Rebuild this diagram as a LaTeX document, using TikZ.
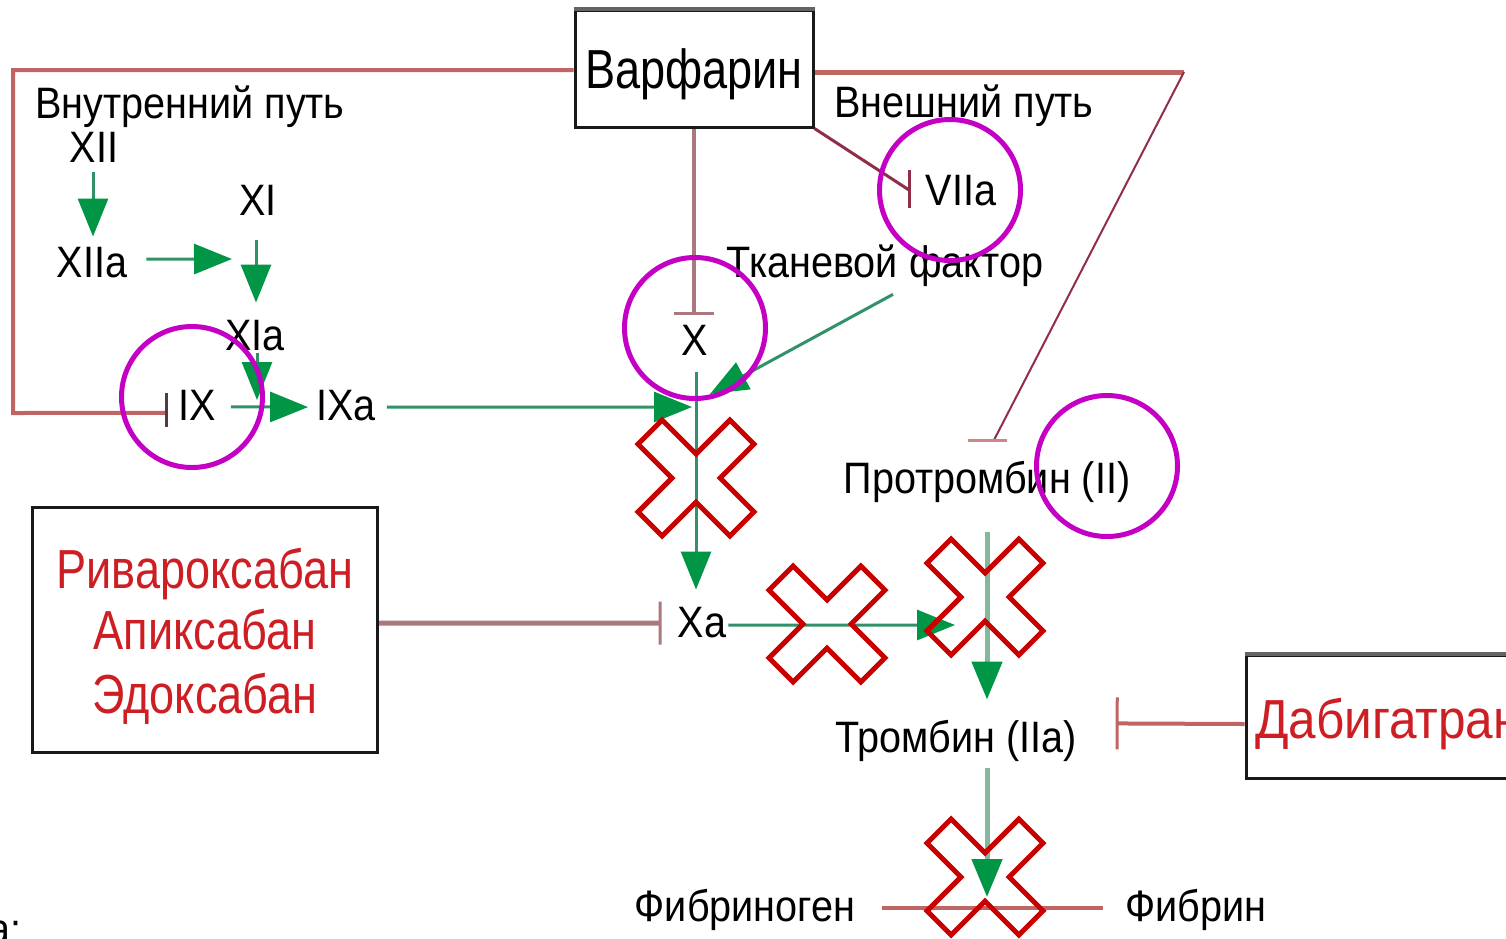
\documentclass[tikz,border=0pt]{standalone}
\usepackage{fontspec}
\setmainfont[FakeStretch=0.9]{Liberation Sans}
\newfontfamily\bigfont[FakeStretch=0.82]{Liberation Sans}
\newfontfamily\dabfont[FakeStretch=0.9]{Liberation Sans}
\usetikzlibrary{arrows.meta,calc}
\definecolor{ghead}{RGB}{0,150,70}
\definecolor{gline}{RGB}{50,145,105}
\definecolor{glight}{RGB}{130,185,155}
\definecolor{inh}{RGB}{192,100,100}
\definecolor{inhB}{RGB}{170,120,125}
\definecolor{inhD}{RGB}{145,45,70}
\definecolor{barD}{RGB}{80,60,65}
\definecolor{barP}{RGB}{205,135,135}
\definecolor{xred}{RGB}{200,0,0}
\definecolor{mag}{RGB}{196,0,196}
\definecolor{drug}{RGB}{205,30,35}
\definecolor{boxline}{RGB}{25,25,25}
\definecolor{boxtop}{RGB}{100,100,100}
\begin{document}
\begin{tikzpicture}[x=1pt,y=-1pt,
  lbl/.style={anchor=base,inner sep=0pt,font=\fontsize{44}{50}\selectfont},
  big/.style={anchor=base,inner sep=0pt,font=\bigfont\fontsize{55}{62}\selectfont},
  drugtxt/.style={big,text=drug},
  framebox/.style={draw=boxline,line width=3pt,inner sep=0pt},
  gar/.style={draw=gline,line width=3pt,-{Triangle[length=38pt,width=30pt,color=ghead]}},
  gthick/.style={gar,draw=glight,line width=5pt},
  inhl/.style={line width=4pt,draw=inh},
  tee/.style={-{Bar[width=#1,line width=3pt]}},
  tbar/.style={line width=3pt},
  crossl/.style={draw=xred,line width=5pt,line join=miter},
  ring/.style={draw=mag,line width=5pt,circle,inner sep=0pt,minimum size=141pt},
  xmark/.pic={\draw[crossl,rotate=45] (17,17) -- (65,17) -- (65,-17) -- (17,-17) -- (17,-65) -- (-17,-65) -- (-17,-17) -- (-65,-17) -- (-65,17) -- (-17,17) -- (-17,65) -- (17,65) -- cycle;}
]
\clip (0,0) rectangle (1506,938);
\fill[white] (0,0) rectangle (1506,938);

% boxes
\node[framebox,minimum width=238pt,minimum height=117pt] (war) at (694,68.5) {};
\draw[line width=4pt,draw=boxtop] (war.north west) -- (war.north east);
\node[big] (wart) at (694,88) {Варфарин};
\node[framebox,minimum width=345pt,minimum height=245pt] (lbox) at (205,630) {};
\node[drugtxt] (riv) at (205,588) {Ривароксабан};
\node[drugtxt] (api) at (205,649) {Апиксабан};
\node[drugtxt] (edo) at (205,713) {Эдоксабан};
\node[framebox,minimum width=284pt,minimum height=123pt] (dab) at (1388,716.5) {};
\draw[line width=4pt,draw=boxtop] (dab.north west) -- (dab.north east);
\node[drugtxt,anchor=base west,font=\dabfont\fontsize{55}{62}\selectfont] (dabt) at (1255,738) {Дабигатран};

% labels
\node[lbl] (inner) at (190,118) {Внутренний путь};
\node[lbl] (XII) at (94,162) {XII};
\node[lbl] (XIIa) at (92,277) {XIIa};
\node[lbl] (XI) at (258,215) {XI};
\node[lbl] (XIa) at (255,350) {XIa};
\node[lbl] (IX) at (197,420) {IX};
\node[lbl] (IXa) at (346,420) {IXa};
\node[lbl] (X) at (695,355) {X};
\node[lbl] (Xa) at (702,637) {Xa};
\node[lbl] (outer) at (964,117) {Внешний путь};
\node[lbl] (VIIa) at (961,205) {VIIa};
\node[lbl] (TF) at (885,277) {Тканевой фактор};
\node[lbl] (proth) at (987,493) {Протромбин (II)};
\node[lbl] (thromb) at (956,752) {Тромбин (IIa)};
\node[lbl] (fgen) at (745,921) {Фибриноген};
\node[lbl] (fib) at (1196,921) {Фибрин};
\node[lbl,anchor=base east] (cut) at (22,944) {а:};

% free ends
\coordinate (xiiaEnd) at (232,259);
\coordinate (xiaEnd) at (257,400);
\coordinate (jXw) at (692,407);
\coordinate (jXe) at (710,394);
\coordinate (pEnd) at (955,625);
\coordinate (fEnd) at (987,897);
\coordinate (v7) at (909,190);
\coordinate (pTop) at (1184,72);
\coordinate (pBar) at (994,440);

% inhibition lines
\draw[inhl] ($(war.west)+(0,1.5)$) -| (13,413) -- ($(IX.west)+(-12,8)$);
\draw[tbar,draw=barD] ($(IX.west)+(-12,-12)$) -- ($(IX.west)+(-12,22)$);
\draw[inhl,draw=inhB,tee=40pt] (war.south) -- ($(X.north)+(-1,-10)$);
\draw[line width=3pt,draw=inhD] (war.south east) -- (v7);
\draw[tbar,draw=inhD] ($(v7)+(0,-20)$) -- ($(v7)+(0,18)$);
\draw[line width=5pt,draw=inh] ($(war.east)+(0,3.5)$) -- (pTop);
\draw[line width=2pt,draw=inhD] (pTop) -- (pBar);
\draw[tbar,draw=barP] ($(pBar)+(-26,0)$) -- ($(pBar)+(13,0)$);
\draw[inhl,draw=inhB,line width=5pt,tee=43pt] ($(lbox.east)+(0,-7)$) -- ($(Xa.west)+(-16,1)$);
\draw[inhl,tee=52pt] ($(dab.west)+(0,7.5)$) -- ($(thromb.east)+(39,-17)$);
\draw[line width=4pt,draw=inh] ($(fgen.base east)+(27,-13)$) -- ($(fib.base west)+(-22,-13)$);

% activation arrows
\draw[gar] ($(XII.south)+(-1,10)$) -- ($(XIIa.north)+(1,-10)$);
\draw[gar] ($(XIIa.east)+(19,-3)$) -- (xiiaEnd);
\draw[gar] ($(XI.south)+(-2,25)$) -- ($(XIa.north)+(1,-17)$);
\draw[gar] ($(XIa.south)+(2,2)$) -- (xiaEnd);
\draw[gar] ($(IX.east)+(15,2)$) -- ($(IXa.west)+(-8,2)$);
\draw[gar] ($(IXa.east)+(11,2)$) -- (jXw);
\draw[gar] ($(TF.south)+(8,8)$) -- (jXe);
\draw[gar] ($(X.south)+(1,17)$) -- ($(Xa.north)+(-6,-17)$);
\draw[gar] ($(Xa.east)+(2,3)$) -- (pEnd);
\draw[gthick] ($(proth.south)+(0,30)$) -- ($(thromb.north)+(31,-20)$);
\draw[gthick] ($(thromb.south)+(31,7)$) -- (fEnd);

% crosses
\pic at (696,478) {xmark};
\pic at (827,624) {xmark};
\pic at (985,597) {xmark};
\pic at (985,877) {xmark};

% highlight rings
\node[ring] (r1) at (950,190) {};
\node[ring] (r2) at (695,328) {};
\node[ring] (r3) at (192,397) {};
\node[ring] (r4) at (1107,466) {};
\end{tikzpicture}
\end{document}
